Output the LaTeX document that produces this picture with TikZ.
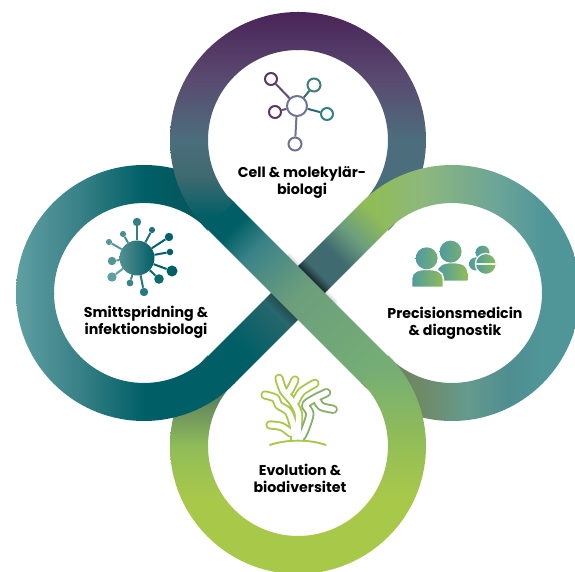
\documentclass[tikz,border=0pt]{standalone}
\usepackage{fontspec}
\setmainfont{Poppins}
\usetikzlibrary{positioning}

\definecolor{plum}{HTML}{4A2458}
\definecolor{plummid}{HTML}{5A4A70}
\definecolor{slate}{HTML}{4C6E7C}
\definecolor{deepteal}{HTML}{005F66}
\definecolor{inkteal}{HTML}{0A5058}
\definecolor{midteal}{HTML}{3A8288}
\definecolor{paleteal}{HTML}{5F9FA2}
\definecolor{seateal}{HTML}{4F9BA0}
\definecolor{sage}{HTML}{6C9E7C}
\definecolor{fern}{HTML}{75AE75}
\definecolor{leaf}{HTML}{90BC58}
\definecolor{lime}{HTML}{A8C84A}
\definecolor{olive}{HTML}{5C7F60}
\definecolor{moss}{HTML}{6D7D58}
\definecolor{gunmetal}{HTML}{3F6A70}
\definecolor{molplum}{HTML}{5B3568}
\definecolor{molblue}{HTML}{6E7396}
\definecolor{rimtop}{HTML}{8EB87C}
\definecolor{rimmid}{HTML}{6BA498}
\definecolor{rimend}{HTML}{509699}
\definecolor{lowa}{HTML}{6F8A68}
\definecolor{lowb}{HTML}{659A8C}
\definecolor{lowc}{HTML}{4F8E90}

\pgfdeclareverticalshading{topleft}{100bp}{color(0bp)=(deepteal); color(35bp)=(deepteal); color(43bp)=(gunmetal); color(50bp)=(slate); color(62bp)=(plummid); color(75bp)=(plum); color(100bp)=(plum)}
\pgfdeclareverticalshading{topright}{100bp}{color(0bp)=(gunmetal); color(35bp)=(gunmetal); color(43bp)=(slate); color(50bp)=(slate); color(62bp)=(plummid); color(75bp)=(plum); color(100bp)=(plum)}
\pgfdeclareverticalshading{bottomright}{100bp}{color(0bp)=(lime); color(40bp)=(lime); color(52bp)=(leaf); color(65bp)=(fern); color(100bp)=(fern)}
\pgfdeclareverticalshading{bottomleft}{100bp}{color(0bp)=(lime); color(40bp)=(lime); color(50bp)=(leaf); color(60bp)=(olive); color(100bp)=(olive)}
\pgfdeclarehorizontalshading{leftlow}{100bp}{color(0bp)=(paleteal); color(25bp)=(paleteal); color(37bp)=(midteal); color(50bp)=(deepteal); color(100bp)=(deepteal)}
\pgfdeclarehorizontalshading{lefthigh}{100bp}{color(0bp)=(paleteal); color(25bp)=(paleteal); color(37bp)=(midteal); color(50bp)=(deepteal); color(65bp)=(inkteal); color(100bp)=(inkteal)}
\pgfdeclarehorizontalshading{righthigh}{100bp}{color(0bp)=(leaf); color(35bp)=(leaf); color(44bp)=(rimtop); color(59bp)=(rimmid); color(68bp)=(rimend); color(100bp)=(rimend)}
\pgfdeclarehorizontalshading{rightlow}{100bp}{color(0bp)=(moss); color(35bp)=(moss); color(44bp)=(lowa); color(53bp)=(lowb); color(61bp)=(lowc); color(68bp)=(rimend); color(100bp)=(rimend)}
\pgfdeclarehorizontalshading{bandup}{100bp}{color(0bp)=(deepteal); color(32bp)=(deepteal); color(50bp)=(gunmetal); color(62bp)=(gunmetal); color(68bp)=(sage); color(75bp)=(leaf); color(100bp)=(leaf)}
\pgfdeclarehorizontalshading{banddown}{100bp}{color(0bp)=(deepteal); color(29bp)=(deepteal); color(36bp)=(midteal); color(50bp)=(sage); color(75bp)=(fern); color(100bp)=(fern)}

\newcommand{\loopseg}[5]{%
\begin{scope}[shift={(#1,#2)}]
\clip (#3:128) arc[start angle=#3,end angle=#4,radius=128] -- (#4:90) arc[start angle=#4,end angle=#3,radius=90] -- cycle;
\shade[shading=#5] (-128,-128) rectangle (128,128);
\end{scope}}

\tikzset{
  sat/.style={circle,draw,fill=white,inner sep=0,line width=2,minimum size=#1},
  spike/.style={circle,inner sep=0,minimum size=#1},
  topic/.style={align=center,font=\fontsize{14.2}{17}\selectfont\bfseries,inner sep=0},
  teal2green/.style={left color=seateal,right color=leaf}
}

\begin{document}
\begin{tikzpicture}[x=1pt,y=1pt]
\useasboundingbox (0,0) rectangle (575,572);
\clip (0,0) rectangle (575,572);
\fill[white] (0,0) rectangle (575,572);

% ends that pass under
\loopseg{298}{432}{91}{-45}{topright}
\loopseg{452}{279}{1}{-135}{rightlow}
\loopseg{298}{126}{-89}{-225}{bottomleft}
\loopseg{144}{279}{181}{45}{lefthigh}

% lower band
\loopseg{144}{279}{-45}{-180}{leftlow}
\loopseg{452}{279}{135}{0}{righthigh}
\begin{scope}[transform canvas={shift={(298pt,279pt)},rotate=45}]
\shade[shading=bandup] (-109.5,-19) rectangle (109.5,19);
\end{scope}

% shadow of the upper band
\begin{scope}[shift={(298,279)},rotate=45]
\foreach \w in {2,4,...,8}{
\draw[black,opacity=.03,line width=\w,line cap=round] (19,-32) -- (19,32);
}
\clip (-109,-19) rectangle (109,19);
\foreach \w in {3,6,...,18}{
\draw[black,opacity=.09,line width=\w] (19,-19) -- (19,19);
\draw[black,opacity=.04,line width=\w] (-19,-19) -- (-19,19);
}
\end{scope}

% upper band
\loopseg{298}{432}{90}{225}{topleft}
\loopseg{298}{126}{45}{-90}{bottomright}
\begin{scope}[transform canvas={shift={(298pt,279pt)},rotate=-45}]
\shade[shading=banddown] (-109.5,-19) rectangle (109.5,19);
\end{scope}

% molecule
\node[sat=20,draw=molblue] (hub) at (297,466) {};
\node[sat=12,draw=molplum] (m1) at (271,493) {};
\node[sat=13,draw=seateal!80!black] (m2) at (314,487) {};
\node[sat=12,draw=deepteal!80] (m3) at (327,458) {};
\node[sat=12,draw=molplum] (m4) at (275,460) {};
\node[sat=13,draw=molblue] (m5) at (295,428) {};
\draw[line width=2,draw=molplum!70!molblue] (hub) -- (m1);
\draw[line width=2,draw=seateal!70!black] (hub) -- (m2);
\draw[line width=2,draw=deepteal!60!molblue] (hub) -- (m3);
\draw[line width=2,draw=molplum!60!molblue] (hub) -- (m4);
\draw[line width=2,draw=molblue] (hub) -- (m5);

% virus
\node[circle,inner sep=0,minimum size=35,left color=paleteal!90!black,right color=deepteal] (virus) at (137,314) {};
\foreach \sx/\sy/\sd/\sc [count=\i] in {137/350/8.4/50,152/342/6.2/70,169/335/8.4/95,170/320/6.6/100,172/301/11/100,159/293/9.6/85,144/280/8.4/60,130/289/6.8/40,112/295/9.4/0,112/311/8.4/15,109/330/6.2/10,123/338/6.2/25}{
\node[spike=\sd,fill=deepteal!\sc!paleteal] (spike\i) at (\sx,\sy) {};
\draw[deepteal!\sc!paleteal,line width=2] (virus) -- (spike\i);
}

% people and pills
\begin{scope}[shift={(380pt,342pt)},x=.333pt,y=-.333pt]
\shade[teal2green] (173,152) -- (173,128) .. controls (173,108) and (190,100) .. (217,100) .. controls (245,100) and (262,108) .. (262,128) -- (262,152) -- cycle;
\node[circle,inner sep=0,minimum size=22,left color=seateal,right color=fern] (backhead) at (212,65) {};
\shade[teal2green,draw=white,line width=1.5] (95,172) -- (95,145) .. controls (95,125) and (115,118) .. (140,118) .. controls (170,118) and (190,125) .. (190,145) -- (190,172) -- cycle;
\node[circle,inner sep=0,minimum size=22,left color=seateal,right color=fern] (fronthead) at (140,85) {};
\node[circle,inner sep=0,minimum size=14,left color=seateal,right color=fern] (pillb) at (308,68) {};
\node[circle,inner sep=0,minimum size=13,left color=seateal,right color=fern] (pillc) at (287,102) {};
\node[circle,draw=white,line width=1.2,inner sep=0,minimum size=21,left color=seateal,right color=leaf] (pilla) at (318,102) {};
\draw[white!85!leaf,line width=1.5] (pilla.west) -- (pilla.east);
\end{scope}

% coral
\begin{scope}[shift={(255pt,202pt)},x=.333pt,y=-.333pt]
\foreach \c/\d/\wa/\wb in {lime/sage/15.4/9.2,white/white/11.6/5.4}{
\draw[\c,line width=\wa] (128,212) -- (128,190);
\draw[\c,line width=\wb,line cap=round,line join=round]
  plot[smooth] coordinates {(72,25) (85,62) (110,92) (130,130) (129,190)}
  plot[smooth] coordinates {(120,30) (105,60) (94,72)}
  plot[smooth] coordinates {(180,40) (140,65) (122,95)}
  plot[smooth] coordinates {(30,75) (62,85) (70,105) (100,125) (115,165) (117,192)}
  plot[smooth] coordinates {(45,165) (80,170) (108,190)};
\draw[\d!60!\c,line width=\wb,line cap=round,line join=round]
  plot[smooth] coordinates {(215,68) (180,85) (152,105) (165,132) (150,180) (140,200)}
  plot[smooth] coordinates {(235,118) (200,110) (188,94)};
}
\draw[lime,line width=1.9,line cap=round] (45,225) .. controls (95,208) and (165,208) .. (212,225);
\end{scope}

% labels
\node[topic] (cell) at (302,389) {Cell \& molekylär-\\biologi};
\node[topic] (smitt) at (146,250) {Smittspridning \&\\infektionsbiologi};
\node[topic] (precis) at (455,249) {Precisionsmedicin\\\& diagnostik};
\node[topic] (evol) at (300,94) {Evolution \&\\biodiversitet};
\end{tikzpicture}
\end{document}
